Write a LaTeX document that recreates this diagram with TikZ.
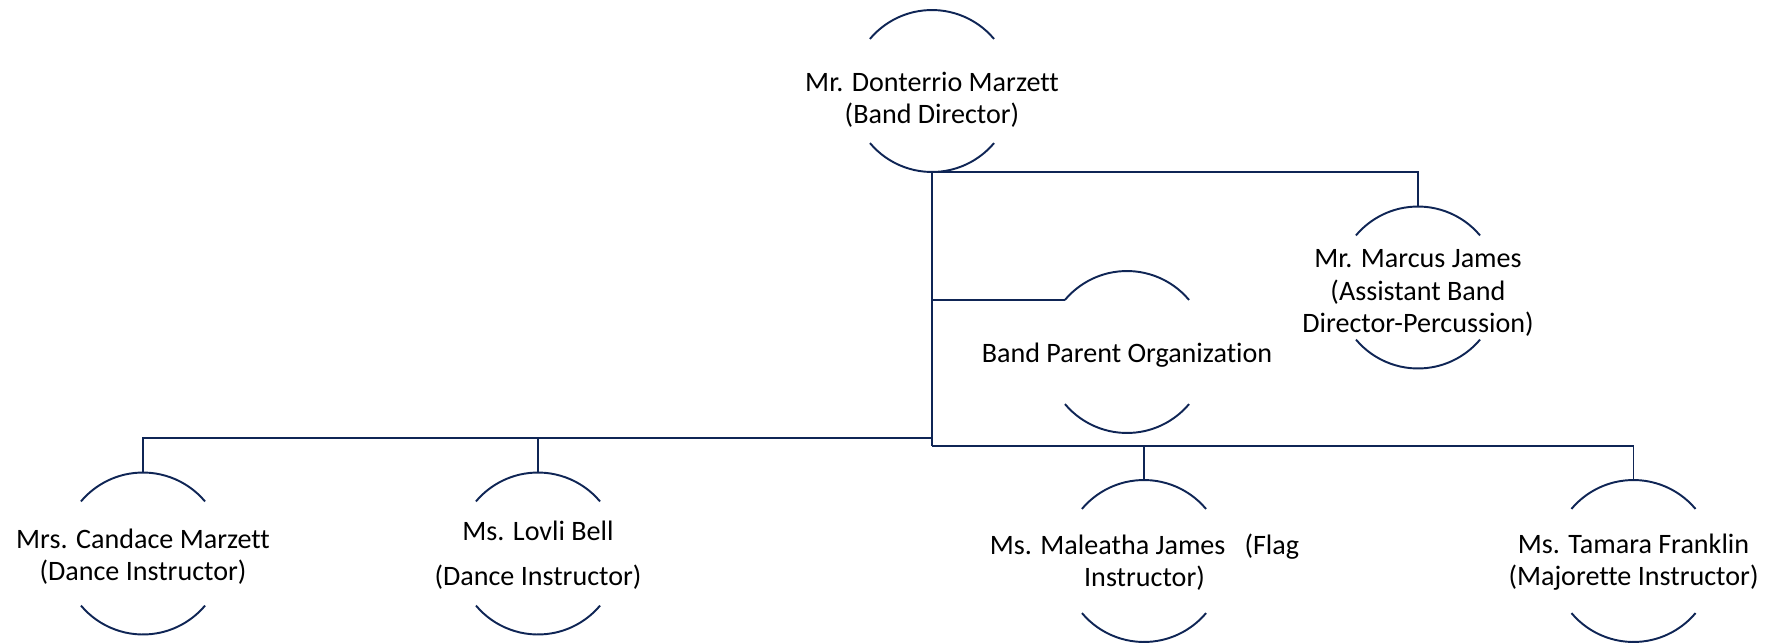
\documentclass[tikz,border=0pt]{standalone}
\usepackage{fontspec}
\setmainfont[Ligatures=NoCommon]{Carlito}
\definecolor{navy}{RGB}{15,37,85}

\begin{document}
\begin{tikzpicture}[x=0.02cm,y=-0.02cm,
	ring/.style={circle, minimum size=3.24cm, inner sep=0pt, outer sep=0pt},
	label/.style={align=center, inner sep=0pt, font=\fontsize{16}{18.4}\selectfont},
	link/.style={draw=navy, line width=1.1pt}]

	\useasboundingbox (0,0) rectangle (1783,643);

	%Nodes
	\node[ring]	(director)	at (932,91)	{};
	\node[ring]	(marcus)	at (1418,287.5)	{};
	\node[ring]	(parent)	at (1127,352)	{};
	\node[ring]	(candace)	at (143,553.5)	{};
	\node[ring]	(lovli)	at (538,553.5)	{};
	\node[ring]	(maleatha)	at (1144,561)	{};
	\node[ring]	(tamara)	at (1633.5,561)	{};

	%Labels
	\node[label]	(directorlbl)	at (932,100)	{Mr. Donterrio Marzett\\(Band Director)};
	\node[label]	(marcuslbl)	at (1418,293)	{Mr. Marcus James\\(Assistant Band\\Director-Percussion)};
	\node[label]	(parentlbl)	at (1127,355)	{Band Parent Organization};
	\node[label]	(candacelbl)	at (143,557)	{Mrs. Candace Marzett\\(Dance Instructor)};
	\node[label]	(lovlilbl)	at (538,555)	{Ms. Lovli Bell\\[7pt](Dance Instructor)};
	\node[label]	(maleathalbl)	at (1144.5,562)	{Ms. Maleatha James\ \ \ (Flag\\Instructor)};
	\node[label]	(tamaralbl)	at (1633.5,562)	{Ms. Tamara Franklin\\(Majorette Instructor)};

	%Arcs
	\foreach \n in {director,marcus,parent,candace,lovli,maleatha,tamara}{
		\draw[link] (\n.40) arc[start angle=40, end angle=140, radius=1.62cm];
		\draw[link] (\n.220) arc[start angle=220, end angle=320, radius=1.62cm];
	}

	%Lines
	\coordinate (lbus) at (932,438);
	\coordinate (rbus) at (932,445.7);
	\draw[link] (director.south) -- (rbus);
	\draw[link] (director.south) -| (marcus.north);
	\draw[link] (director.south |- parent.140) -- (parent.140);
	\draw[link] (lbus) -| (candace.north);
	\draw[link] (lovli.north) -- (lovli.north |- lbus);
	\draw[link] (rbus) -| (tamara.north);
	\draw[link] (maleatha.north) -- (maleatha.north |- rbus);
\end{tikzpicture}
\end{document}
